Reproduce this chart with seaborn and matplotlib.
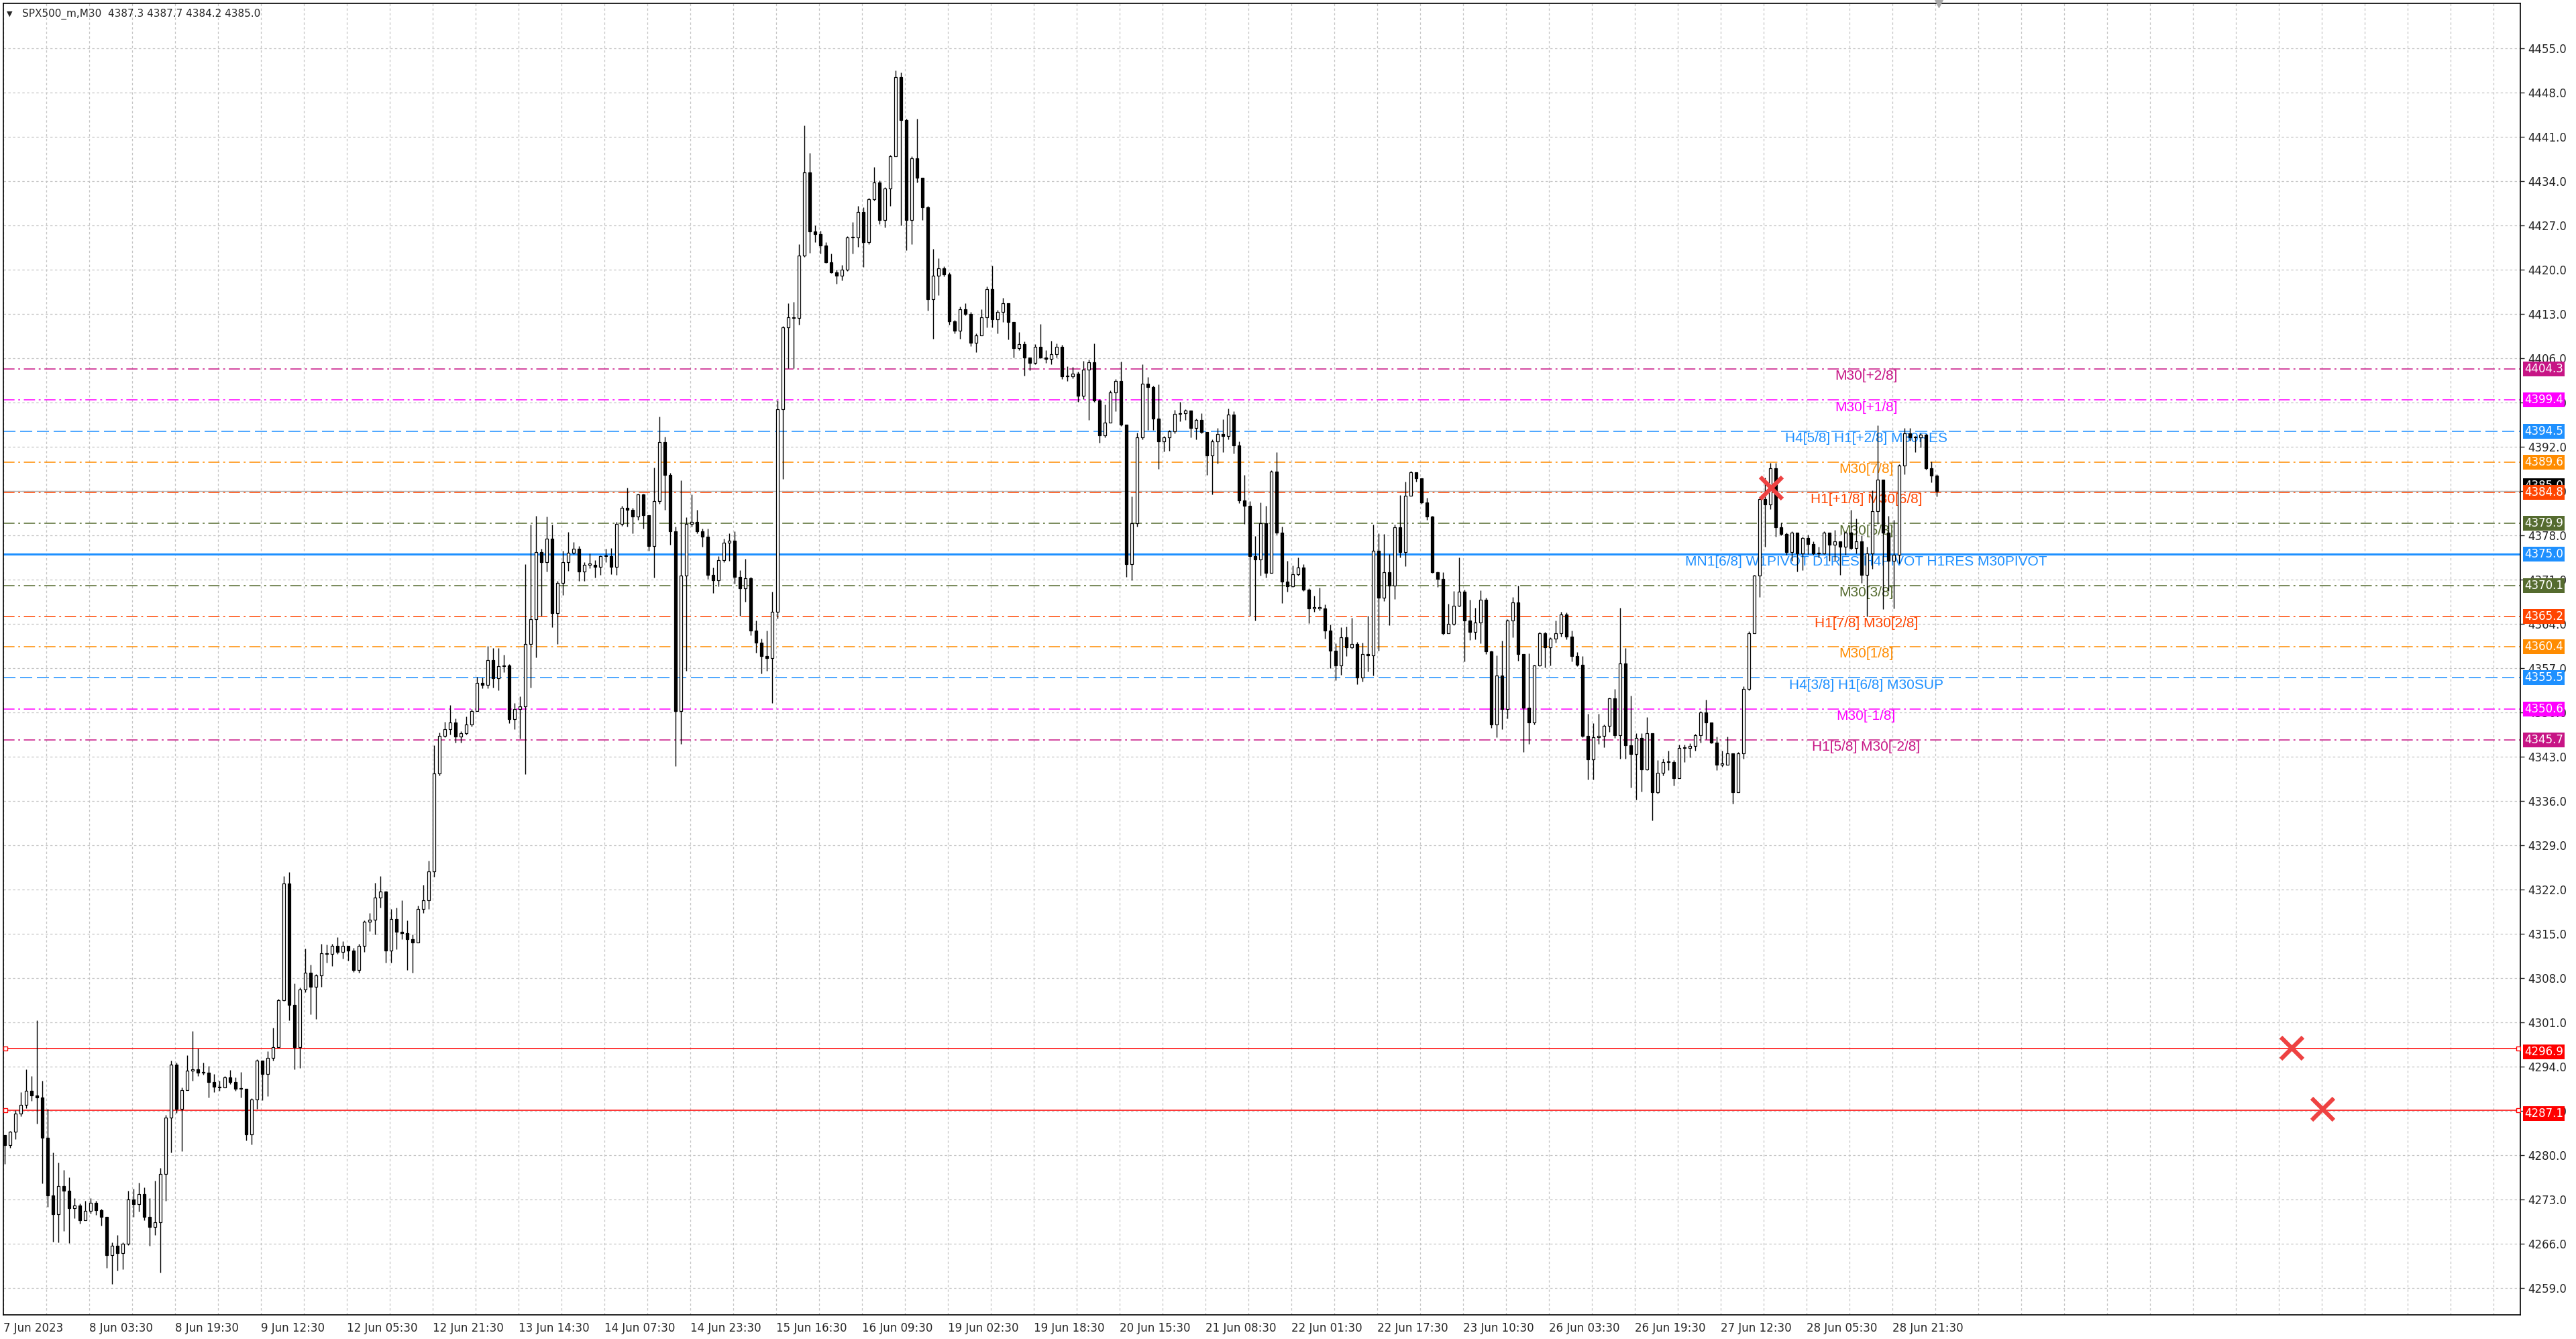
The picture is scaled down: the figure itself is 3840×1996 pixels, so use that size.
import numpy as np
import pandas as pd
import matplotlib
matplotlib.use("Agg")
import matplotlib.pyplot as plt
import matplotlib.transforms as mtransforms
from matplotlib.ticker import MultipleLocator
import seaborn as sns

sns.set_style("white")
plt.rcParams['font.family'] = ['DejaVu Sans']
plt.rcParams['lines.scale_dashes'] = False

title_text = "SPX500_m,M30  4387.3 4387.7 4384.2 4385.0"
first_open = 4283.2

close = [
    4281.6, 4283.8, 4286.6, 4288.0, 4290.2, 4289.5, 4289.2, 4282.8, 4273.7, 4270.7,
    4275.2, 4274.4, 4271.7, 4272.1, 4269.8, 4271.2, 4272.5, 4271.3, 4270.3, 4264.2,
    4265.7, 4264.6, 4266.0, 4273.0, 4272.3, 4273.9, 4270.3, 4268.7, 4269.4, 4277.1,
    4286.0, 4294.3, 4287.3, 4290.3, 4293.4, 4293.6, 4293.1, 4293.1, 4291.6, 4290.8,
    4290.7, 4292.3, 4291.6, 4290.5, 4290.5, 4283.3, 4288.8, 4295.0, 4292.9, 4295.4,
    4297.1, 4304.5, 4323.0, 4303.8, 4297.1, 4306.2, 4308.9, 4306.7, 4308.5, 4312.0,
    4311.8, 4313.1, 4312.2, 4313.1, 4312.4, 4309.3, 4313.1, 4316.9, 4317.3, 4320.8,
    4321.7, 4312.4, 4317.4, 4315.3, 4315.1, 4314.2, 4313.7, 4318.9, 4320.3, 4324.9,
    4340.4, 4346.3, 4347.4, 4348.4, 4346.2, 4346.7, 4348.1, 4350.2, 4354.7, 4354.4,
    4358.3, 4355.4, 4357.3, 4357.4, 4349.0, 4350.6, 4351.0, 4360.8, 4364.8, 4375.4,
    4373.8, 4377.5, 4365.7, 4370.5, 4373.8, 4375.3, 4375.9, 4372.3, 4373.4, 4373.4,
    4373.0, 4374.7, 4374.7, 4373.0, 4379.8, 4382.4, 4382.0, 4381.0, 4384.5, 4381.2,
    4376.3, 4383.4, 4392.7, 4387.6, 4378.7, 4350.2, 4371.7, 4379.8, 4380.1, 4378.7,
    4377.8, 4371.8, 4370.9, 4374.1, 4376.9, 4377.2, 4371.4, 4369.6, 4371.2, 4363.0,
    4361.1, 4358.9, 4358.6, 4365.9, 4397.9, 4410.9, 4412.5, 4412.4, 4422.2, 4435.4,
    4426.0, 4425.6, 4423.8, 4421.2, 4419.6, 4419.1, 4420.0, 4425.1, 4425.1, 4429.1,
    4424.3, 4431.1, 4433.8, 4427.8, 4432.8, 4437.9, 4450.4, 4443.7, 4427.8, 4437.6,
    4434.5, 4429.9, 4415.3, 4419.1, 4420.2, 4419.3, 4411.8, 4410.4, 4413.7, 4413.0,
    4408.4, 4409.6, 4412.5, 4416.9, 4412.2, 4413.3, 4414.7, 4411.7, 4407.6, 4408.2,
    4406.1, 4405.3, 4407.8, 4406.1, 4405.9, 4406.6, 4407.8, 4403.1, 4403.1, 4403.6,
    4400.1, 4404.2, 4405.4, 4399.3, 4393.8, 4395.8, 4400.6, 4402.4, 4395.5, 4373.5,
    4379.9, 4393.5, 4402.0, 4401.5, 4396.5, 4392.9, 4393.5, 4394.5, 4397.2, 4397.3,
    4397.7, 4395.0, 4396.2, 4394.3, 4390.6, 4392.9, 4394.0, 4393.7, 4397.1, 4392.2,
    4383.5, 4382.7, 4374.7, 4374.2, 4379.9, 4372.1, 4388.1, 4378.4, 4370.7, 4370.0,
    4371.9, 4372.9, 4369.4, 4366.5, 4366.5, 4366.5, 4363.0, 4359.8, 4357.4, 4361.9,
    4360.3, 4360.8, 4355.5, 4359.2, 4359.0, 4375.6, 4368.2, 4372.2, 4370.1, 4379.3,
    4375.4, 4384.3, 4388.0, 4387.0, 4383.2, 4381.0, 4372.2, 4371.1, 4362.5, 4364.0,
    4366.9, 4369.1, 4364.6, 4362.7, 4364.2, 4367.8, 4359.7, 4348.1, 4355.9, 4350.5,
    4364.6, 4367.4, 4359.2, 4350.8, 4348.4, 4357.4, 4362.5, 4360.3, 4361.7, 4362.5,
    4365.5, 4362.0, 4358.9, 4357.6, 4346.3, 4342.6, 4346.1, 4346.3, 4347.9, 4352.2,
    4346.4, 4357.8, 4344.8, 4343.4, 4346.0, 4341.0, 4346.7, 4337.4, 4340.5, 4342.2,
    4342.2, 4339.6, 4344.4, 4344.4, 4344.7, 4346.4, 4350.0, 4348.4, 4345.3, 4341.8,
    4341.8, 4343.6, 4337.4, 4343.6, 4353.7, 4362.5, 4371.6, 4383.7, 4382.9, 4388.6,
    4379.3, 4378.2, 4375.4, 4378.4, 4375.1, 4377.6, 4376.6, 4375.1, 4375.1, 4378.4,
    4376.5, 4377.1, 4376.2, 4378.4, 4376.0, 4377.1, 4371.8, 4375.1, 4381.8, 4386.8,
    4378.4, 4374.0, 4374.9, 4389.0, 4394.1, 4393.5, 4393.5, 4393.9, 4388.6, 4387.5,
    4385.0]

high = [
    4283.2, 4283.9, 4287.1, 4290.0, 4293.6, 4292.6, 4301.4, 4291.8, 4287.3, 4280.5,
    4278.9, 4277.7, 4276.5, 4273.3, 4272.4, 4272.8, 4273.2, 4272.8, 4271.6, 4270.2,
    4266.3, 4267.4, 4266.3, 4274.4, 4274.7, 4275.7, 4274.9, 4273.3, 4276.0, 4278.0,
    4286.4, 4295.0, 4294.7, 4290.7, 4295.8, 4299.7, 4296.9, 4294.7, 4294.1, 4292.9,
    4291.8, 4292.5, 4293.5, 4292.3, 4293.2, 4290.5, 4289.1, 4295.2, 4295.0, 4296.5,
    4300.2, 4304.7, 4324.2, 4324.8, 4307.2, 4306.5, 4312.7, 4310.1, 4308.7, 4313.4,
    4313.3, 4313.4, 4314.5, 4313.9, 4312.8, 4312.8, 4313.4, 4317.2, 4318.3, 4323.1,
    4324.2, 4321.8, 4318.9, 4319.2, 4320.3, 4317.2, 4314.9, 4319.5, 4322.8, 4326.6,
    4344.8, 4346.8, 4348.5, 4351.2, 4349.1, 4347.1, 4349.4, 4350.6, 4355.6, 4355.5,
    4360.5, 4360.2, 4360.2, 4359.1, 4357.7, 4351.5, 4352.6, 4373.5, 4379.7, 4381.1,
    4375.9, 4381.0, 4379.7, 4370.8, 4375.6, 4378.5, 4377.0, 4376.3, 4373.8, 4375.2,
    4374.1, 4374.8, 4375.9, 4376.0, 4380.1, 4382.7, 4385.5, 4382.4, 4384.6, 4384.6,
    4381.2, 4388.7, 4396.8, 4393.6, 4387.9, 4379.4, 4386.7, 4380.9, 4384.5, 4382.0,
    4379.1, 4379.1, 4372.9, 4374.7, 4377.5, 4378.3, 4378.7, 4372.5, 4374.3, 4371.4,
    4364.6, 4361.7, 4363.0, 4369.1, 4399.3, 4411.1, 4414.7, 4414.9, 4424.0, 4442.8,
    4438.5, 4427.0, 4426.2, 4424.3, 4422.5, 4420.0, 4420.7, 4425.3, 4427.5, 4430.1,
    4429.9, 4431.4, 4436.2, 4434.1, 4433.0, 4438.1, 4451.5, 4451.2, 4443.9, 4437.9,
    4443.9, 4434.5, 4430.1, 4423.3, 4421.8, 4420.5, 4419.6, 4412.0, 4414.2, 4414.7,
    4413.3, 4409.9, 4413.8, 4417.3, 4420.6, 4413.6, 4415.5, 4414.0, 4411.7, 4410.1,
    4408.7, 4406.1, 4408.2, 4411.4, 4407.3, 4408.8, 4408.3, 4408.1, 4404.7, 4404.6,
    4403.9, 4405.6, 4405.8, 4408.3, 4399.5, 4398.7, 4400.9, 4402.7, 4405.5, 4395.3,
    4384.2, 4394.2, 4405.1, 4403.0, 4401.7, 4401.9, 4393.7, 4394.7, 4397.8, 4399.1,
    4397.9, 4397.4, 4396.5, 4397.3, 4394.3, 4393.2, 4395.0, 4396.4, 4398.1, 4397.6,
    4392.9, 4387.6, 4383.4, 4377.9, 4383.2, 4382.7, 4388.3, 4391.2, 4379.4, 4374.0,
    4373.2, 4374.5, 4373.5, 4369.6, 4368.5, 4369.7, 4367.1, 4363.9, 4360.9, 4363.5,
    4363.6, 4365.0, 4361.2, 4361.1, 4365.3, 4379.7, 4378.3, 4378.2, 4375.0, 4379.7,
    4384.4, 4386.5, 4388.2, 4388.0, 4387.0, 4383.9, 4381.1, 4372.3, 4372.2, 4367.2,
    4369.2, 4374.5, 4369.4, 4367.8, 4366.6, 4369.3, 4368.2, 4359.8, 4359.0, 4361.4,
    4364.8, 4368.3, 4370.1, 4359.0, 4359.3, 4357.6, 4362.7, 4362.7, 4361.9, 4364.5,
    4365.9, 4365.8, 4363.0, 4359.6, 4358.9, 4349.8, 4348.3, 4349.8, 4348.1, 4352.4,
    4353.7, 4366.6, 4360.2, 4352.7, 4346.7, 4346.7, 4349.3, 4346.7, 4342.5, 4342.7,
    4344.0, 4342.5, 4344.9, 4344.9, 4345.1, 4346.6, 4350.2, 4352.0, 4347.8, 4346.2,
    4344.0, 4346.2, 4340.5, 4343.8, 4354.2, 4362.8, 4371.8, 4384.0, 4387.1, 4389.5,
    4389.5, 4380.0, 4378.4, 4378.7, 4375.8, 4377.8, 4378.1, 4377.1, 4376.2, 4378.7,
    4378.0, 4378.9, 4377.1, 4378.7, 4382.0, 4380.7, 4378.0, 4376.2, 4385.1, 4395.4,
    4386.6, 4381.1, 4380.4, 4389.3, 4395.0, 4395.0, 4393.7, 4394.1, 4394.0, 4389.7,
    4387.7]

low = [
    4278.7, 4281.2, 4282.6, 4286.2, 4287.5, 4288.6, 4285.0, 4275.6, 4271.9, 4266.4,
    4266.3, 4268.1, 4266.1, 4270.1, 4269.2, 4269.9, 4270.8, 4270.6, 4268.9, 4262.2,
    4259.7, 4261.8, 4262.0, 4265.8, 4270.3, 4271.1, 4269.7, 4265.7, 4267.4, 4261.5,
    4272.8, 4280.5, 4286.7, 4280.7, 4290.4, 4291.8, 4292.5, 4292.8, 4289.2, 4290.0,
    4290.2, 4290.7, 4291.3, 4290.2, 4289.2, 4282.4, 4281.7, 4287.3, 4288.7, 4289.4,
    4295.0, 4297.2, 4304.4, 4301.3, 4293.6, 4293.8, 4305.8, 4302.3, 4301.6, 4306.6,
    4310.5, 4309.9, 4311.9, 4311.1, 4310.8, 4309.0, 4308.9, 4312.2, 4315.5, 4314.9,
    4319.2, 4310.5, 4310.5, 4312.6, 4314.2, 4309.3, 4308.9, 4313.8, 4318.3, 4318.9,
    4324.0, 4340.1, 4346.1, 4346.5, 4345.3, 4345.2, 4346.5, 4347.8, 4350.2, 4353.8,
    4353.8, 4353.9, 4353.5, 4356.4, 4348.3, 4347.4, 4345.9, 4340.3, 4353.9, 4358.7,
    4365.3, 4372.3, 4363.5, 4360.8, 4368.6, 4372.4, 4375.0, 4370.8, 4370.8, 4372.8,
    4371.3, 4371.8, 4373.8, 4371.9, 4371.8, 4379.5, 4379.4, 4378.3, 4380.5, 4379.1,
    4375.6, 4371.3, 4383.0, 4382.0, 4376.5, 4341.5, 4345.0, 4356.6, 4379.4, 4378.3,
    4376.2, 4371.1, 4368.9, 4370.0, 4373.8, 4374.0, 4370.4, 4365.3, 4367.5, 4362.2,
    4359.5, 4356.2, 4356.6, 4351.5, 4364.9, 4386.9, 4404.4, 4404.4, 4411.3, 4422.0,
    4422.7, 4424.3, 4422.5, 4421.1, 4419.5, 4417.8, 4418.3, 4419.8, 4422.5, 4423.6,
    4420.4, 4424.0, 4430.9, 4427.2, 4426.7, 4430.1, 4438.1, 4427.0, 4423.1, 4424.0,
    4433.8, 4427.8, 4413.5, 4409.1, 4416.0, 4418.9, 4411.3, 4409.9, 4409.1, 4412.8,
    4407.9, 4407.0, 4409.6, 4410.9, 4410.9, 4409.9, 4411.7, 4409.0, 4406.1, 4407.3,
    4403.2, 4404.1, 4405.0, 4406.0, 4405.3, 4405.0, 4406.1, 4402.7, 4402.4, 4402.8,
    4399.1, 4399.5, 4396.3, 4399.1, 4392.6, 4393.5, 4395.9, 4397.6, 4395.3, 4371.4,
    4370.9, 4379.4, 4393.2, 4394.7, 4394.7, 4388.5, 4391.3, 4391.4, 4394.1, 4396.0,
    4396.2, 4393.5, 4393.2, 4394.1, 4387.6, 4384.5, 4389.4, 4391.2, 4393.2, 4390.9,
    4383.1, 4379.8, 4365.3, 4364.5, 4371.7, 4371.3, 4372.2, 4378.1, 4367.3, 4369.1,
    4369.9, 4371.6, 4369.2, 4364.1, 4365.9, 4366.1, 4361.7, 4357.0, 4355.1, 4356.0,
    4358.9, 4360.1, 4354.5, 4354.9, 4356.5, 4355.8, 4359.8, 4367.6, 4363.8, 4367.9,
    4374.5, 4373.1, 4384.4, 4386.5, 4383.0, 4380.5, 4372.1, 4369.9, 4362.3, 4362.5,
    4363.8, 4366.8, 4358.1, 4361.5, 4361.6, 4360.9, 4359.2, 4347.6, 4346.1, 4347.4,
    4349.1, 4361.9, 4358.2, 4343.8, 4345.0, 4348.1, 4357.3, 4357.1, 4357.4, 4361.1,
    4362.0, 4361.6, 4358.1, 4357.3, 4346.1, 4339.4, 4339.4, 4345.0, 4344.5, 4346.9,
    4346.0, 4342.7, 4342.7, 4338.1, 4336.2, 4337.5, 4340.9, 4333.0, 4337.2, 4340.0,
    4340.9, 4338.5, 4340.5, 4342.2, 4342.9, 4344.0, 4345.3, 4345.8, 4345.1, 4340.9,
    4341.4, 4342.5, 4335.6, 4337.4, 4342.7, 4353.5, 4362.5, 4368.3, 4376.2, 4382.2,
    4377.8, 4378.0, 4374.9, 4374.0, 4372.3, 4372.5, 4375.0, 4374.9, 4374.5, 4375.0,
    4374.0, 4374.0, 4371.8, 4374.9, 4375.8, 4375.1, 4370.5, 4365.2, 4372.7, 4379.8,
    4366.3, 4369.2, 4366.5, 4373.6, 4387.7, 4393.0, 4391.2, 4391.9, 4388.4, 4386.4,
    4384.2]

time_labels = [
    '7 Jun 2023', '8 Jun 03:30', '8 Jun 19:30', '9 Jun 12:30', '12 Jun 05:30',
    '12 Jun 21:30', '13 Jun 14:30', '14 Jun 07:30', '14 Jun 23:30', '15 Jun 16:30',
    '16 Jun 09:30', '19 Jun 02:30', '19 Jun 18:30', '20 Jun 15:30', '21 Jun 08:30',
    '22 Jun 01:30', '22 Jun 17:30', '23 Jun 10:30', '26 Jun 03:30', '26 Jun 19:30',
    '27 Jun 12:30', '28 Jun 05:30', '28 Jun 21:30']
label_step = 16

price_ticks = list(range(4259, 4456, 7))

level_values = [4404.3, 4399.4, 4394.5, 4389.6, 4384.8, 4379.9, 4375.0,
                4370.1, 4365.2, 4360.4, 4355.5, 4350.6, 4345.7]
level_names = ['M30[+2/8]', 'M30[+1/8]', 'H4[5/8] H1[+2/8] M30RES', 'M30[7/8]',
               'H1[+1/8] M30[6/8]', 'M30[5/8]',
               'MN1[6/8] W1PIVOT D1RES H4PIVOT H1RES M30PIVOT', 'M30[3/8]',
               'H1[7/8] M30[2/8]', 'M30[1/8]', 'H4[3/8] H1[6/8] M30SUP',
               'M30[-1/8]', 'H1[5/8] M30[-2/8]']
level_colors = ['#C71585', '#FF00FF', '#1E90FF', '#FF8C00', '#FF4500', '#556B2F', '#1E90FF',
                '#556B2F', '#FF4500', '#FF8C00', '#1E90FF', '#FF00FF', '#C71585']
level_kind = ['dashdot', 'dashdot', 'dashed', 'dashdot', 'dashdot', 'dashdot', 'solid',
              'dashdot', 'dashdot', 'dashdot', 'dashed', 'dashdot', 'dashdot']

red_levels = [4296.9, 4287.1]
bid_price = 4385.0

cross_x = [329.4, 426.4, 432.1]
cross_y = [4385.5, 4297.0, 4287.3]

# --- build candles ---
df = pd.DataFrame({'close': close, 'high': high, 'low': low})
df['open'] = df['close'].shift(1).fillna(first_open)
df['x'] = np.arange(len(df)) + 0.25
df['top'] = df[['open', 'close']].max(axis=1)
df['bot'] = df[['open', 'close']].min(axis=1)
df['up'] = df['close'] >= df['open']

fig = plt.figure(figsize=(38.4, 19.96), dpi=100)
ax = fig.add_axes([5 / 3840, 36 / 1996, 3752 / 3840, 1955 / 1996])
ax.set_xlim(0, 469)
ax.set_ylim(4254.8, 4462.1)

# grid and axes
ax.set_axisbelow(True)
ax.set_xticks(np.arange(len(time_labels)) * label_step)
ax.set_xticklabels(time_labels, ha='left', fontsize=12)
ax.xaxis.set_minor_locator(MultipleLocator(label_step / 2))
ax.tick_params(axis='x', which='minor', length=0)
ax.tick_params(axis='x', which='major', direction='out', length=5, width=1, pad=3)
ax.yaxis.tick_right()
ax.set_yticks(price_ticks)
ax.set_yticklabels([f"{p:.1f}" for p in price_ticks], fontsize=12)
ax.tick_params(axis='y', direction='out', length=4, width=1, pad=4)
ax.grid(True, which='both', color='#c4c4c4', linestyle=(0, (2.5, 2.5)), linewidth=0.9)
for s in ax.spines.values():
    s.set_color('black')
    s.set_linewidth(1.2)

# level lines
dash_map = {'dashdot': (0, (12, 4, 2, 4)), 'dashed': (0, (13, 5)), 'solid': '-'}
for v, c, k in zip(level_values, level_colors, level_kind):
    ax.axhline(v, color=c, linestyle=dash_map[k], linewidth=2.2 if k == 'solid' else 1.1, zorder=2)
for v in red_levels:
    ax.axhline(v, color='#FF0000', linewidth=1.1, zorder=2)
    ax.plot([0.35, 468.6], [v, v], linestyle='none', marker='s', ms=5, mfc='white',
            mec='#FF0000', mew=1, zorder=3)
ax.axhline(bid_price, color='#b4b4b4', linewidth=1.0, zorder=1.9)

# level captions
for v, n, c in zip(level_values, level_names, level_colors):
    ax.text(347.1, v - 1.15, n, color=c, ha='center', va='center', fontsize=15,
            family=['Liberation Sans', 'DejaVu Sans'], zorder=2.5)

# candles
ax.vlines(df['x'], np.minimum(df['low'], df['bot']), np.maximum(df['high'], df['top']),
          color='black', linewidth=1.0, zorder=3)
heights = np.maximum(df['top'] - df['bot'], 0.12)
up = df['up'].values
ax.bar(df['x'][up], heights[up], bottom=df['bot'][up], width=0.62, color='white',
       edgecolor='black', linewidth=0.9, zorder=4)
ax.bar(df['x'][~up], heights[~up], bottom=df['bot'][~up], width=0.62, color='black',
       edgecolor='black', linewidth=0.9, zorder=4)

# red crosses
sns.scatterplot(x=cross_x, y=cross_y, marker='x', s=560, linewidth=4.5, color='#EE4242',
                ax=ax, zorder=6, legend=False)

# price boxes on the right scale
trans = mtransforms.blended_transform_factory(ax.transAxes, ax.transData)
ax.text(1.0017, bid_price + 0.9, f"{bid_price:.1f}", transform=trans, ha='left', va='center',
        color='white', fontsize=12, clip_on=False, zorder=9,
        bbox=dict(boxstyle='square,pad=0.12', fc='black', ec='none'))
for v, c in zip(level_values, level_colors):
    ax.text(1.0017, v, f"{v:.1f}", transform=trans, ha='left', va='center', color='white',
            fontsize=12, clip_on=False, zorder=10,
            bbox=dict(boxstyle='square,pad=0.12', fc=c, ec='none'))
for v in red_levels:
    ax.text(1.0017, v - 0.5, f"{v:.1f}", transform=trans, ha='left', va='center', color='white',
            fontsize=12, clip_on=False, zorder=10,
            bbox=dict(boxstyle='square,pad=0.12', fc='#FF0000', ec='none'))

# chart shift marker
ax.plot([360.6], [4462.1], marker='v', ms=9, color='#a8a8a8', clip_on=False, zorder=10)

# symbol header
fig.text(10 / 3840, 1 - 21 / 1996, '\u25bc', fontsize=8, va='center', ha='left')
fig.text(33 / 3840, 1 - 21 / 1996, title_text, fontsize=11, va='center', ha='left')

fig.savefig("out.png", dpi=100, facecolor='white')
